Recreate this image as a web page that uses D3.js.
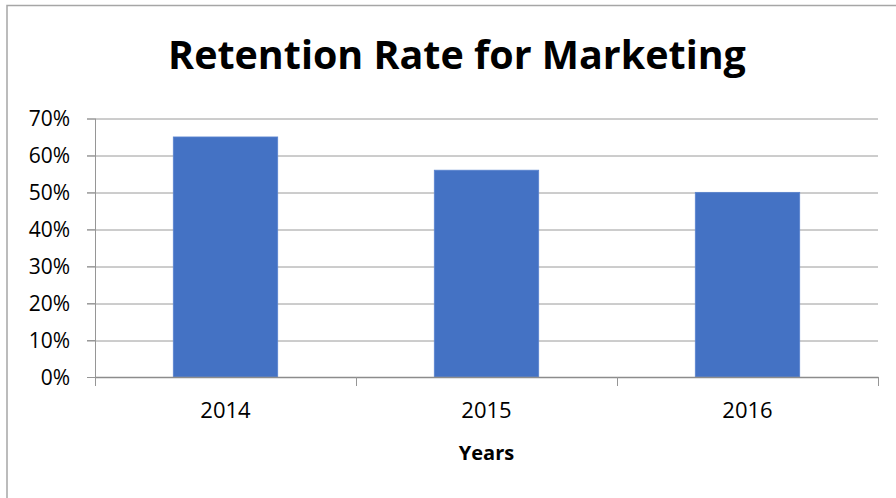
<!DOCTYPE html>
<html>
<head>
<meta charset="utf-8">
<script src="https://cdn.jsdelivr.net/npm/d3@7"></script>
<style>
  body { margin: 0; background: #fff; }
  text { font-family: "Open Sans", "Noto Sans", sans-serif; fill: #000; }
</style>
</head>
<body>
<script>
// chart data
var years = ["2014", "2015", "2016"];
var retention = [0.65, 0.56, 0.50];
var yTicks = [0, 0.1, 0.2, 0.3, 0.4, 0.5, 0.6, 0.7];
var chartTitle = "Retention Rate for Marketing";
var xTitle = "Years";

var W = 896, H = 498;
var margin = { top: 118.5, right: 18, bottom: 121, left: 95 },
    width = W - margin.left - margin.right,
    height = H - margin.top - margin.bottom;

var root = d3.select("body").append("svg")
    .attr("width", W)
    .attr("height", H);

// outer chart frame (runs past right and bottom edge)
root.append("rect")
    .attr("x", 7).attr("y", 5.5)
    .attr("width", 920).attr("height", 520)
    .attr("fill", "none")
    .attr("stroke", "#a6a6a6")
    .attr("stroke-width", 1.5);

// title
var title = root.append("text")
    .attr("x", 457)
    .attr("y", 69)
    .attr("text-anchor", "middle")
    .style("font-weight", "bold")
    .style("font-size", "36px")
    .text(chartTitle);
// fit title to the reference width
var tw = title.node().getComputedTextLength();
title.style("font-size", (36 * 578 / tw) + "px");

var svg = root.append("g")
    .attr("transform", "translate(" + margin.left + "," + margin.top + ")");

var xScale = d3.scaleBand()
    .domain(years)
    .range([0, width])
    .paddingInner(0.6)
    .paddingOuter(0.3);

var yScale = d3.scaleLinear()
    .domain([0, 0.7])
    .range([height, 0]);

// gridlines
svg.append("g")
    .selectAll("line")
    .data(yTicks.filter(d => d > 0))
    .enter()
    .append("line")
    .attr("x1", -8)
    .attr("x2", width)
    .attr("y1", d => Math.round(yScale(d)) + 0.5)
    .attr("y2", d => Math.round(yScale(d)) + 0.5)
    .attr("stroke", "#9a9a9a")
    .attr("stroke-width", 1);

// y axis
var yAxis = d3.axisLeft(yScale)
    .tickValues(yTicks)
    .tickFormat(d3.format(".0%"))
    .tickSize(8)
    .tickPadding(17);

var gy = svg.append("g").call(yAxis);
gy.select(".domain").attr("stroke", "#969696").attr("d", "M0.5,0V" + (height + 9));
gy.selectAll(".tick line").attr("stroke", "#969696");
gy.selectAll(".tick text")
    .style("font-size", "21px")
    .attr("dy", "0.35em");

// bars
svg.selectAll(".bar")
    .data(retention)
    .enter()
    .append("rect")
    .attr("class", "bar")
    .attr("x", (d, i) => xScale(years[i]))
    .attr("y", d => yScale(d))
    .attr("width", xScale.bandwidth())
    .attr("height", d => height - yScale(d))
    .attr("fill", "#4472c4")
    .attr("stroke", "#5b84cf")
    .attr("stroke-width", 0.8);

// x axis
var xAxis = d3.axisBottom(xScale).tickSize(0).tickPadding(25);
var gx = svg.append("g")
    .attr("transform", "translate(0," + height + ")")
    .call(xAxis);
gx.select(".domain").attr("stroke", "#8c8c8c").attr("stroke-width", 1.5);
gx.selectAll(".tick text").style("font-size", "22px");

// category boundary ticks
svg.append("g")
    .selectAll("line")
    .data(d3.range(years.length + 1))
    .enter()
    .append("line")
    .attr("x1", i => Math.round(i * width / years.length) + 0.5)
    .attr("x2", i => Math.round(i * width / years.length) + 0.5)
    .attr("y1", height)
    .attr("y2", height + 9)
    .attr("stroke", "#969696");

// x axis title
svg.append("text")
    .attr("x", width / 2)
    .attr("y", height + 83)
    .attr("text-anchor", "middle")
    .style("font-weight", "bold")
    .style("font-size", "20px")
    .text(xTitle);
</script>
</body>
</html>
